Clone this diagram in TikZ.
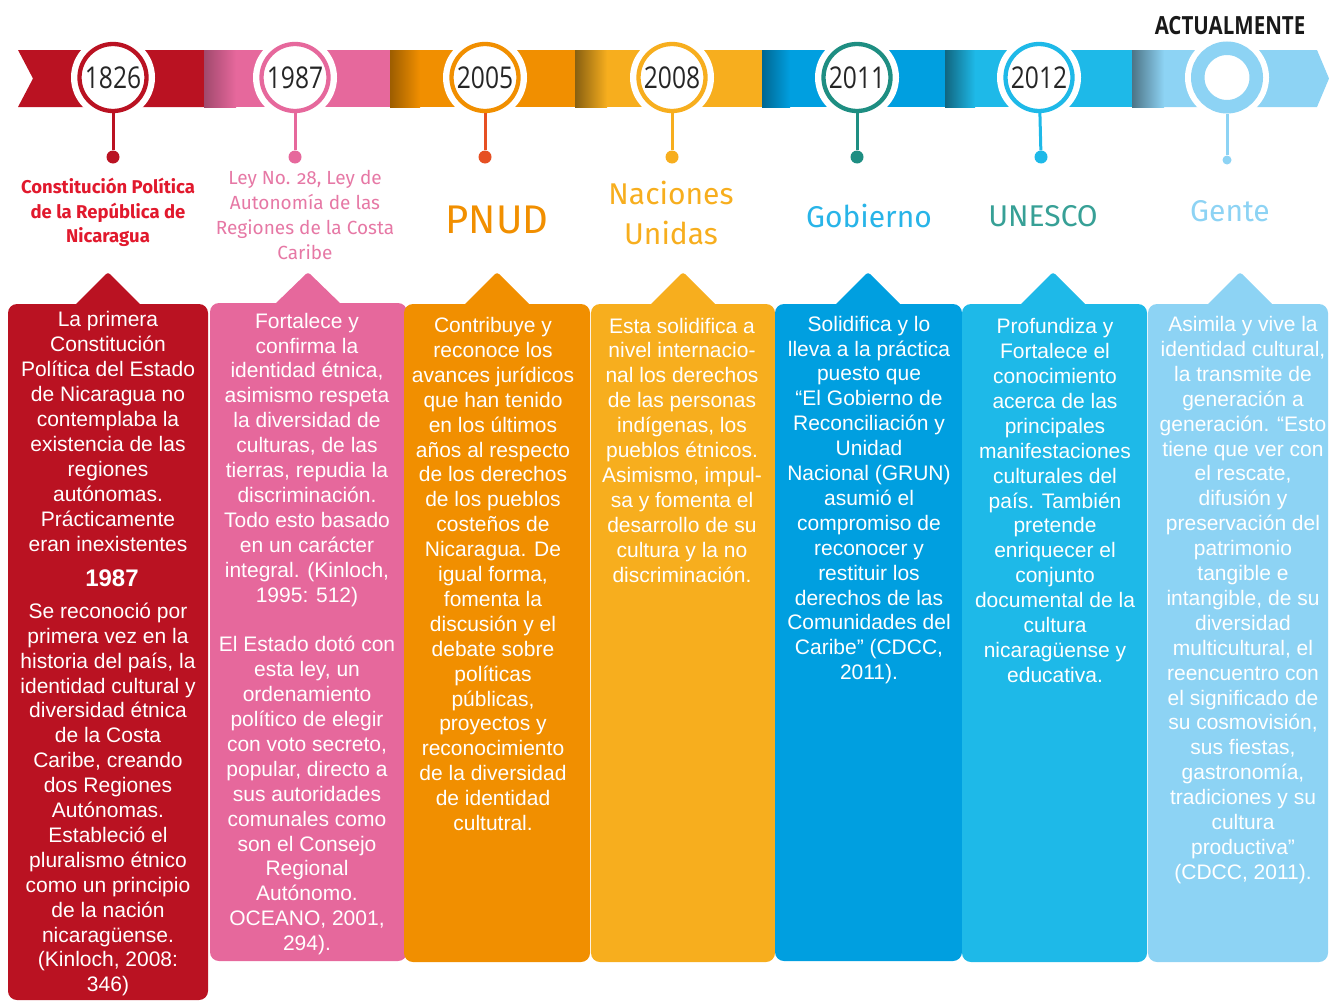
\documentclass[tikz,border=0pt]{standalone}
\usepackage{fontspec}
\setmainfont{Liberation Sans}
\newfontfamily\headfont[Numbers=OldStyle]{Fira Sans}
\newfontfamily\yearfont[FakeStretch=0.82]{Open Sans}

\definecolor{rojo}{RGB}{186,18,34}
\definecolor{rosa}{RGB}{230,104,156}
\definecolor{naranja}{RGB}{241,143,0}
\definecolor{amarillo}{RGB}{247,174,30}
\definecolor{azul}{RGB}{0,159,224}
\definecolor{cian}{RGB}{30,185,232}
\definecolor{celeste}{RGB}{141,211,244}
\definecolor{verde}{RGB}{30,142,130}
\definecolor{rojotxt}{RGB}{225,25,45}
\definecolor{rosatxt}{RGB}{230,120,165}
\definecolor{azultxt}{RGB}{40,180,232}
\definecolor{verdetxt}{RGB}{55,160,150}
\definecolor{tallo}{RGB}{230,80,35}

\tikzset{
  yearring/.style={circle, draw=#1, line width=4.3pt, fill=white, minimum size=67pt, inner sep=0pt,
    font=\yearfont\fontsize{30}{30}\selectfont, text=black!85},
  pindot/.style={circle, fill=#1, minimum size=13pt, inner sep=0pt},
  stem/.style={line width=3pt, draw=#1},
  boxtext/.style={text=white, align=center, inner sep=0pt, font=\fontsize{21}{24.9}\selectfont},
  headlbl/.style={align=center, inner sep=0pt, text=#1},
}

\begin{document}
\begin{tikzpicture}[x=1pt, y=-1pt]
\useasboundingbox (0,0) rectangle (1329,1001);

% cinta
\fill[rojo] (18,50) -- (205,50) -- (205,107) -- (18,107) -- (33,78.5) -- cycle;
\fill[rosa] (204,50) rectangle (391,107);
\shade[left color=rosa!70!black, right color=rosa] (204,50) rectangle (236,107);
\fill[naranja] (390,50) rectangle (576,107);
\shade[left color=naranja!65!black, right color=naranja] (390,50) rectangle (420,107);
\fill[amarillo] (575,50) rectangle (763,107);
\shade[left color=amarillo!55!black, right color=amarillo] (575,50) rectangle (607,107);
\fill[azul] (762,50) rectangle (946,107);
\shade[left color=azul!65!black, right color=azul] (762,50) rectangle (790,107);
\fill[cian] (945,50) rectangle (1133,107);
\shade[left color=cian!55!black, right color=cian] (945,50) rectangle (975,107);
\fill[celeste] (1132,50) -- (1317,50) -- (1329,78.5) -- (1317,107) -- (1132,107) -- cycle;
\shade[left color=celeste!55!black, right color=celeste] (1132,50) rectangle (1164,107);

% huecos blancos
\fill[white] (113,77.5) circle (42);
\fill[white] (295,77.5) circle (42);
\fill[white] (485,77.5) circle (42);
\fill[white] (672,77.5) circle (42);
\fill[white] (857,77.5) circle (42);
\fill[white] (1039,77.5) circle (42);
\fill[white] (1227,77.5) circle (42);

% anos
\node[yearring=rojo] (y1826) at (113,77.5) {1826};
\node[yearring=rosa] (y1987) at (295,77.5) {1987};
\node[yearring=naranja] (y2005) at (485,77.5) {2005};
\node[yearring=amarillo] (y2008) at (672,77.5) {2008};
\node[yearring=verde] (y2011) at (857,77.5) {2011};
\node[yearring=cian] (y2012) at (1039,77.5) {2012};
\node[circle, draw=celeste, line width=13.5pt, fill=white, minimum size=58.5pt, inner sep=0pt] (yact) at (1227,77.5) {};
\node[font=\yearfont\bfseries\fontsize{25}{25}\selectfont, text=black!90] (actual) at (1230,26) {ACTUALMENTE};

% alfileres
\node[pindot=rojo] (d1826) at (113,157) {};
\node[pindot=rosa] (d1987) at (295,157) {};
\node[pindot=tallo] (d2005) at (485,157) {};
\node[pindot=amarillo] (d2008) at (672,157) {};
\node[pindot=verde] (d2011) at (857,157) {};
\node[pindot=cian] (d2012) at (1041,157) {};
\node[pindot=celeste, minimum size=9pt] (dact) at (1227,160) {};
\draw[stem=rojo] (y1826) -- (d1826);
\draw[stem=rosa] (y1987) -- (d1987);
\draw[stem=tallo] (y2005) -- (d2005);
\draw[stem=amarillo] (y2008) -- (d2008);
\draw[stem=verde] (y2011) -- (d2011);
\draw[stem=cian] (y2012) -- (d2012);
\draw[stem=celeste] (yact) -- (dact);

% titulos
\node[headlbl=rojotxt, font=\headfont\bfseries\fontsize{18.5}{24.5}\selectfont] (h1826) at (108,212.5)
  {Constitución Política\\de la República de\\Nicaragua};
\node[headlbl=rosatxt, font=\headfont\fontsize{19}{24.7}\selectfont] (h1987) at (305,215)
  {Ley No. 28, Ley de\\Autonomía de las\\Regiones de la Costa\\Caribe};
\node[headlbl=naranja, font=\headfont\fontsize{40}{40}\selectfont] (h2005) at (497,220) {PNUD};
\node[headlbl=amarillo, font=\headfont\fontsize{30}{40}\selectfont] (h2008) at (671,213) {Naciones\\Unidas};
\node[headlbl=azultxt, font=\headfont\fontsize{30}{30}\selectfont] (h2011) at (869,216) {Gobierno};
\node[headlbl=verdetxt, font=\headfont\fontsize{30}{30}\selectfont] (h2012) at (1043,216) {UNESCO};
\node[headlbl=celeste, font=\headfont\fontsize{30}{30}\selectfont] (hact) at (1230,211) {Gente};

% cajas
\fill[rojo, rounded corners=9pt] (8,304) rectangle (208,1000);
\fill[rojo, rounded corners=3pt] (74,306) -- (108,272) -- (142,306) -- cycle;
\fill[rosa, rounded corners=9pt] (210,303) rectangle (407,961);
\fill[rosa, rounded corners=3pt] (274,305) -- (308,272) -- (342,305) -- cycle;
\fill[naranja, rounded corners=9pt] (404,304) rectangle (590,962);
\fill[naranja, rounded corners=3pt] (463,306) -- (497,272) -- (531,306) -- cycle;
\fill[amarillo, rounded corners=9pt] (591,304) rectangle (775,962);
\fill[amarillo, rounded corners=3pt] (649,306) -- (683,272) -- (717,306) -- cycle;
\fill[azul, rounded corners=9pt] (775,304) rectangle (962,961);
\fill[azul, rounded corners=3pt] (834,306) -- (868,272) -- (902,306) -- cycle;
\fill[cian, rounded corners=9pt] (962,304) rectangle (1147,962);
\fill[cian, rounded corners=3pt] (1019,306) -- (1053,272) -- (1087,306) -- cycle;
\fill[celeste, rounded corners=9pt] (1148,304) rectangle (1328,962);
\fill[celeste, rounded corners=3pt] (1206,306) -- (1240,272) -- (1274,306) -- cycle;

% textos
\node[boxtext] (t1826a) at (108,431.5) {La primera\\Constitución\\Política del Estado\\de Nicaragua no\\contemplaba la\\existencia de las\\regiones\\autónomas.\\Prácticamente\\eran inexistentes};
\node[boxtext, font=\bfseries\fontsize{24}{24}\selectfont] (t1826y) at (112,578) {1987};
\node[boxtext] (t1826b) at (108,799.5) {Se reconoció por\\primera vez en la\\historia del país, la\\identidad cultural y\\diversidad étnica\\de la Costa\\Caribe, creando\\dos Regiones\\Autónomas.\\Estableció el\\pluralismo étnico\\como un principio\\de la nación\\nicaragüense.\\(Kinloch, 2008:\\346)};
\node[boxtext] (t1987) at (307,634) {Fortalece y\\confirma la\\identidad étnica,\\asimismo respeta\\la diversidad de\\culturas, de las\\tierras, repudia la\\discriminación.\\Todo esto basado\\en un carácter\\integral. (Kinloch,\\1995: 512)\\[24.9pt]El Estado dotó con\\esta ley, un\\ordenamiento\\político de elegir\\con voto secreto,\\popular, directo a\\sus autoridades\\comunales como\\son el Consejo\\Regional\\Autónomo.\\OCEANO, 2001,\\294).};
\node[boxtext] (t2005) at (493,574) {Contribuye y\\reconoce los\\avances jurídicos\\que han tenido\\en los últimos\\años al respecto\\de los derechos\\de los pueblos\\costeños de\\Nicaragua. De\\igual forma,\\fomenta la\\discusión y el\\debate sobre\\políticas\\públicas,\\proyectos y\\reconocimiento\\de la diversidad\\de identidad\\cultutral.};
\node[boxtext] (t2008) at (682,450) {Esta solidifica a\\nivel internacio-\\nal los derechos\\de las personas\\indígenas, los\\pueblos étnicos.\\Asimismo, impul-\\sa y fomenta el\\desarrollo de su\\cultura y la no\\discriminación.};
\node[boxtext] (t2011) at (869,500) {Solidifica y lo\\lleva a la práctica\\puesto que\\“El Gobierno de\\Reconciliación y\\Unidad\\Nacional (GRUN)\\asumió el\\compromiso de\\reconocer y\\restituir los\\derechos de las\\Comunidades del\\Caribe” (CDCC,\\2011).};
\node[boxtext] (t2012) at (1055,500.5) {Profundiza y\\Fortalece el\\conocimiento\\acerca de las\\principales\\manifestaciones\\culturales del\\país. También\\pretende\\enriquecer el\\conjunto\\documental de la\\cultura\\nicaragüense y\\educativa.};
\node[boxtext] (tact) at (1243,600) {Asimila y vive la\\identidad cultural,\\la transmite de\\generación a\\generación. “Esto\\tiene que ver con\\el rescate,\\difusión y\\preservación del\\patrimonio\\tangible e\\intangible, de su\\diversidad\\multicultural, el\\reencuentro con\\el significado de\\su cosmovisión,\\sus fiestas,\\gastronomía,\\tradiciones y su\\cultura\\productiva”\\(CDCC, 2011).};
\end{tikzpicture}
\end{document}
